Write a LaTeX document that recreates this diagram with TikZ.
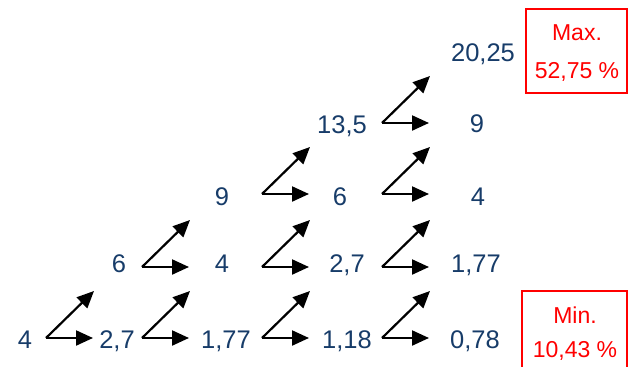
\documentclass[tikz,border=0pt]{standalone}
\usepackage{fontspec}
\setmainfont{Liberation Sans}
\usetikzlibrary{arrows.meta}
\definecolor{numblue}{RGB}{23,60,105}
\definecolor{boxred}{RGB}{255,0,0}
\tikzset{
  num/.style={anchor=base, inner sep=0pt, text=numblue, font=\fontsize{25.5}{30}\selectfont},
  redtxt/.style={anchor=base, inner sep=0pt, text=boxred, font=\fontsize{23}{28}\selectfont},
  redbox/.style={draw=boxred, line width=1.3pt},
  arr/.style={draw=black, line width=2.2pt, -{Triangle[length=17pt,width=15pt]}}
}
\begin{document}
\begin{tikzpicture}[x=1pt,y=-1pt]
\useasboundingbox (0,0) rectangle (630,367);
% numbers
\node[num] (r0a) at (25,348) {4};
\node[num] (r0b) at (117,348) {2,7};
\node[num] (r0c) at (226,348) {1,77};
\node[num] (r0d) at (347,348) {1,18};
\node[num] (r0e) at (475,348) {0,78};
\node[num] (r1b) at (119,272) {6};
\node[num] (r1c) at (222,272) {4};
\node[num] (r1d) at (347,272) {2,7};
\node[num] (r1e) at (476,272) {1,77};
\node[num] (r2c) at (222,205) {9};
\node[num] (r2d) at (340,205) {6};
\node[num] (r2e) at (478,205) {4};
\node[num] (r3d) at (342,133) {13,5};
\node[num] (r3e) at (477,132) {9};
\node[num] (r4e) at (483,61) {20,25};
% arrow corners
\foreach \n/\x/\y in {a0/46/338, a1/142/338, a2/262/338, a3/382/338,
                      b1/142/267, b2/262/267, b3/382/267,
                      c2/262/194, c3/382/194,
                      d3/382/123}{
  \coordinate (\n) at (\x,\y);
  \coordinate (\n h) at (\x+47,\y);
  \coordinate (\n d) at (\x+48,\y-47);
  \draw[arr] (\n) -- (\n h);
  \draw[arr] (\n) -- (\n d);
}
% boxes
\draw[redbox] (526,9) rectangle (627,93);
\node[redtxt] (maxl) at (577,40) {Max.};
\node[redtxt] (maxv) at (577,78) {52,75 \%};
\draw[redbox] (522,380) -- (522,291) -- (627,291) -- (627,380);
\node[redtxt] (minl) at (575,323) {Min.};
\node[redtxt] (minv) at (575,357) {10,43 \%};
\end{tikzpicture}
\end{document}
